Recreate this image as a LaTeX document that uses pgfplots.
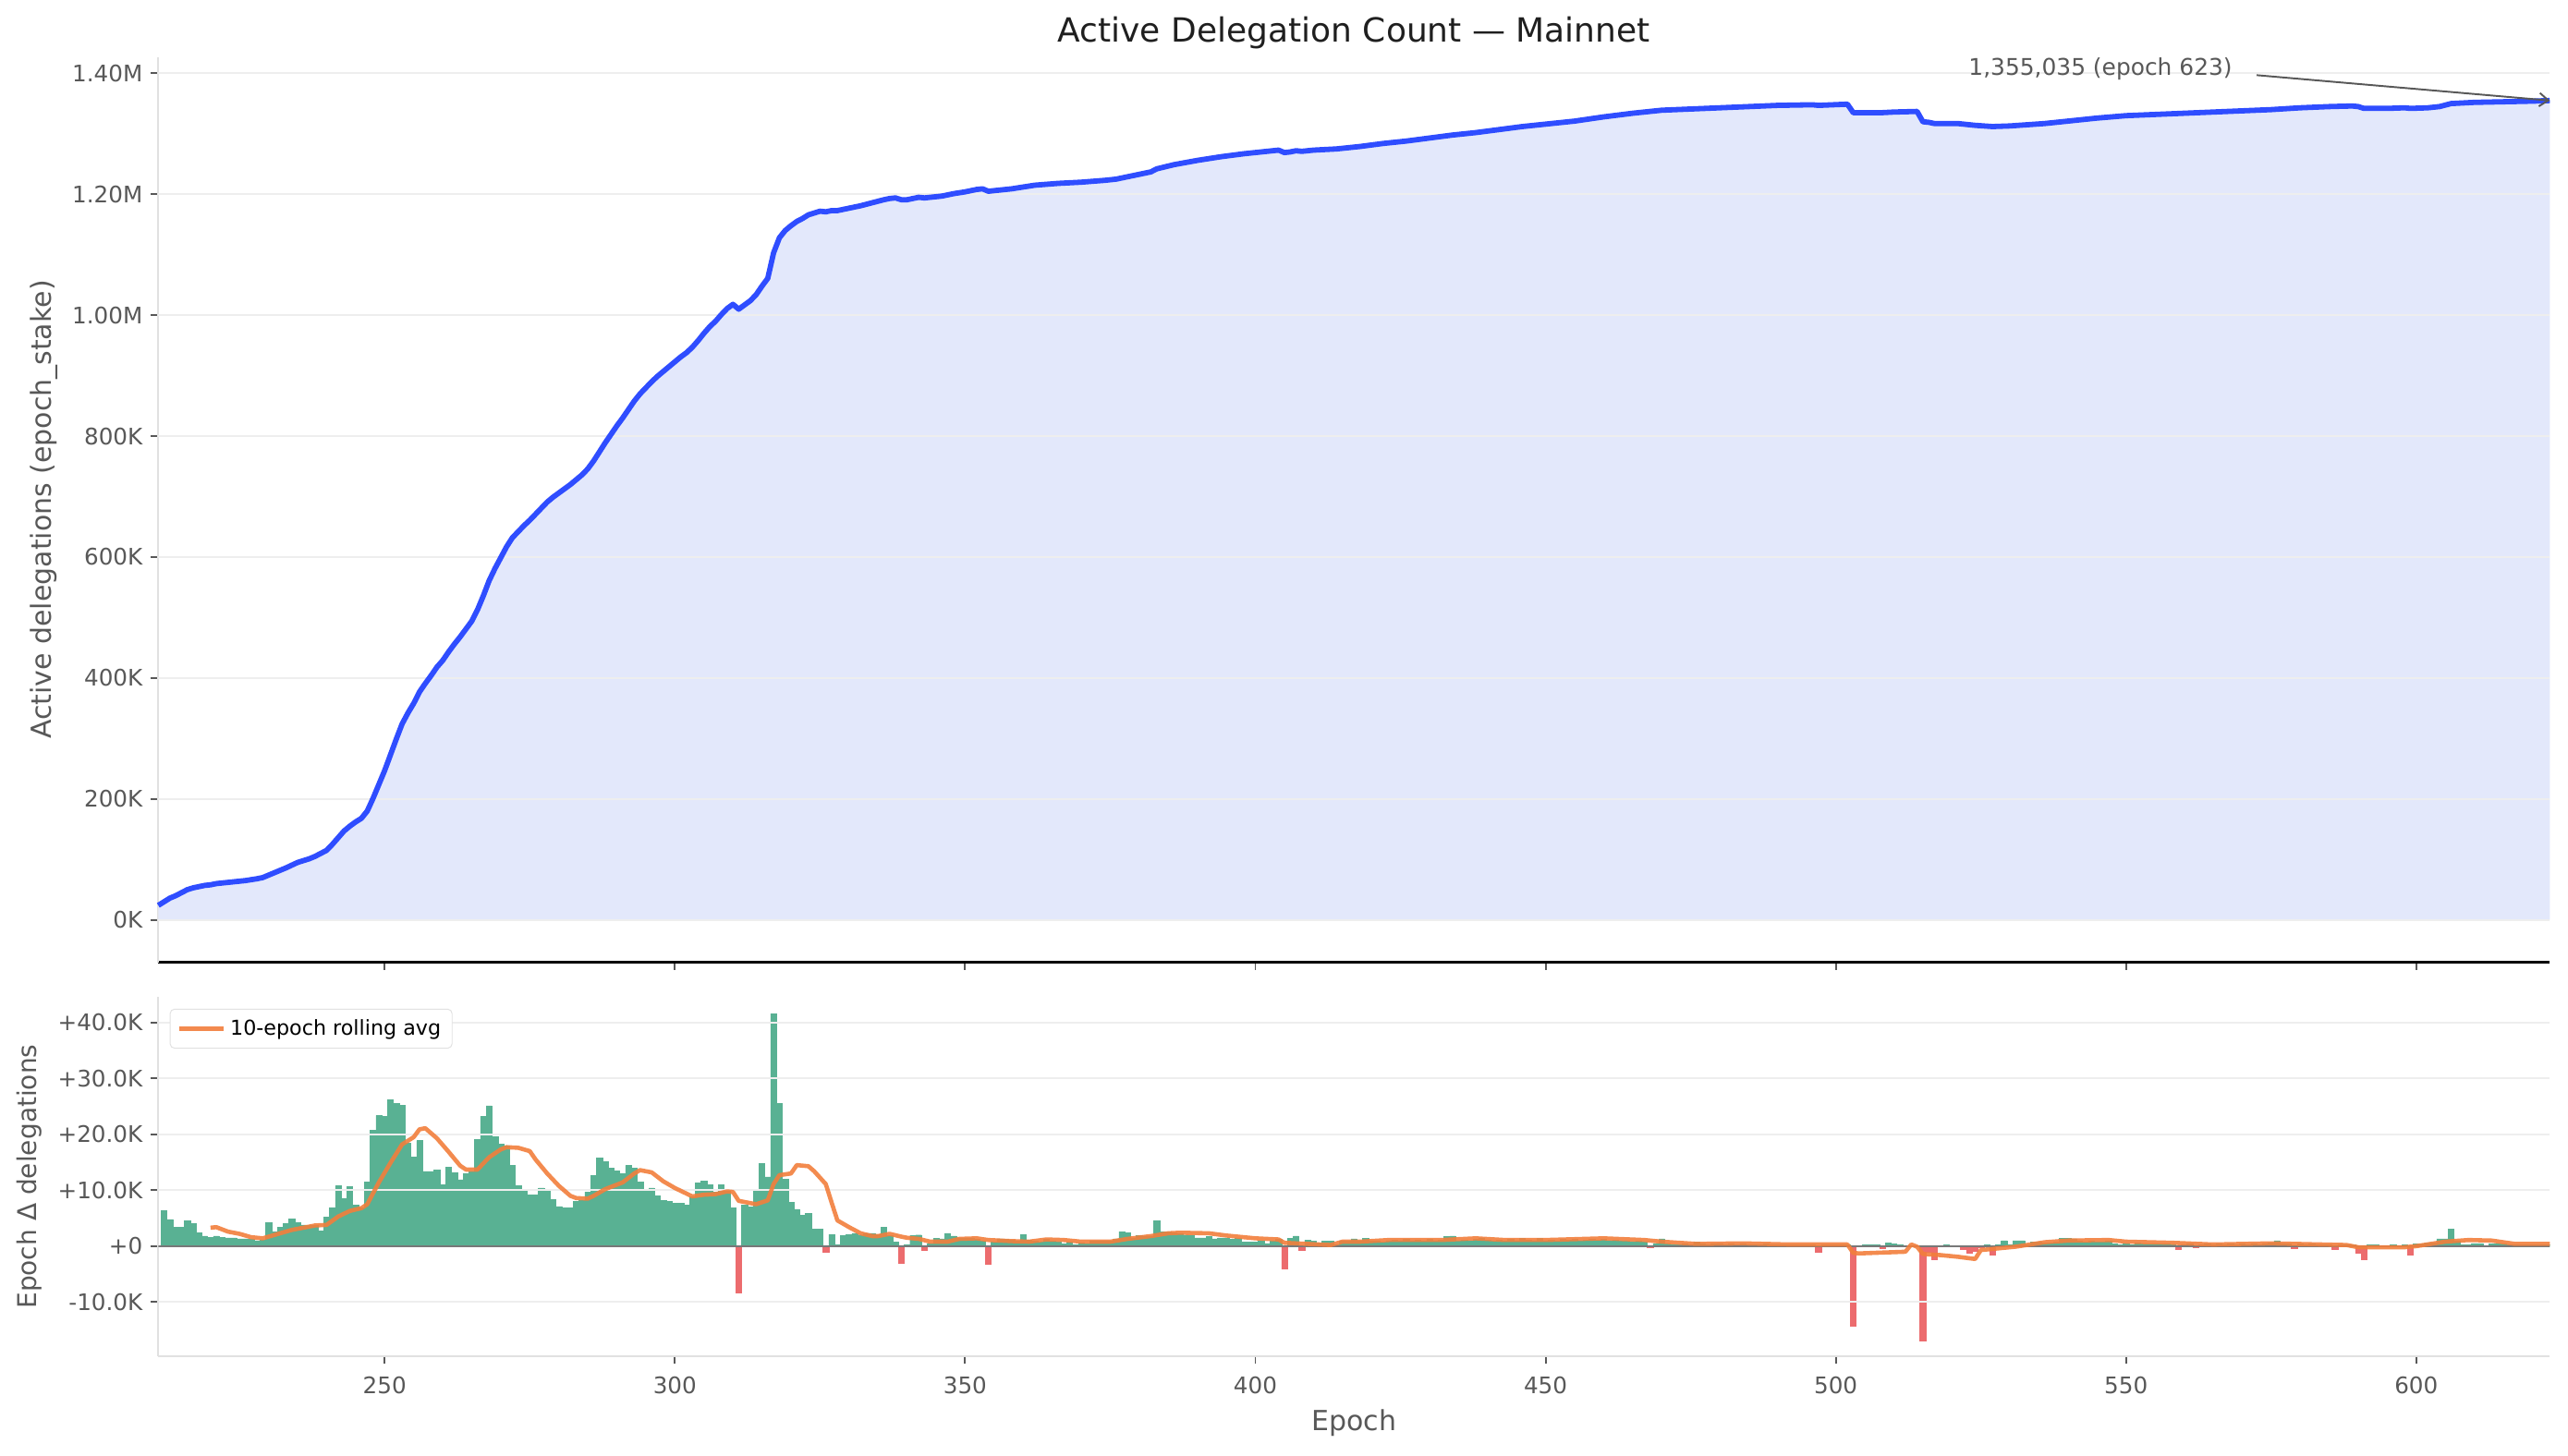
\documentclass[border=0pt]{standalone}
\usepackage{fontspec}
\setmainfont{DejaVu Sans}
\usepackage{pgfplots}
\usepackage{pgfplotstable}
\pgfplotsset{compat=1.18}
\usetikzlibrary{arrows.meta}

\definecolor{lineblue}{RGB}{47,77,255}
\definecolor{fillblue}{RGB}{227,232,251}
\definecolor{bargreen}{RGB}{89,177,147}
\definecolor{barred}{RGB}{236,108,110}
\definecolor{avgorange}{RGB}{242,126,60}
\definecolor{gridgray}{RGB}{238,238,238}
\definecolor{spinegray}{RGB}{225,225,225}
\definecolor{labelgray}{RGB}{88,88,88}
\definecolor{zerogray}{RGB}{120,120,120}

\pgfplotsset{
  panel/.style={
    scale only axis, width=1070.86pt,
    xmin=211, xmax=623,
    axis x line*=bottom, axis y line*=left,
    tick align=outside,
    major tick length=3.5pt,
    tick style={labelgray, line width=0.8pt},
    tick label style={font=\fontsize{10.2}{12}\selectfont, text=labelgray},
    xticklabel style={yshift=-2pt},
    xtick={250,300,...,600},
    y axis line style={spinegray, line width=0.8pt, -},
  },
  gridline/.style={forget plot, gridgray, line width=0.8pt},
}

% active delegations (thousands)
\pgfplotstableread{
epoch count
211 24
212 30
213 36
214 40
215 45
216 50
217 53
218 55
219 57
220 58
221 60
222 61
224 63
226 65
228 68
229 70
231 78
233 86
235 95
237 101
238 105
240 115
241 125
242 136
243 147
244 155
245 162
246 168
247 180
248 201
249 224
250 247
251 273
252 299
253 324
254 342
255 358
256 377
257 391
258 404
259 418
260 429
261 443
262 456
263 468
264 481
265 494
266 513
267 536
268 561
269 581
270 599
271 617
272 632
273 642
274 652
275 661
276 671
277 681
278 691
279 699
280 706
281 713
282 720
283 728
284 736
285 746
286 759
287 774
288 789
289 803
290 817
291 830
292 844
293 858
294 870
295 880
296 890
297 899
298 907
299 915
300 923
301 931
302 938
303 947
304 958
305 970
306 981
307 990
308 1001
309 1011
310 1018
311 1010
312 1017
313 1024
314 1034
315 1048
316 1061
317 1103
318 1128
319 1140
320 1148
321 1155
322 1160
323 1166
324 1169
325 1172
326 1171
327 1173
328 1173
330 1177
332 1181
334 1186
336 1191
337 1193
338 1194
339 1191
340 1191
342 1195
343 1194
344 1195
346 1197
348 1201
350 1204
352 1208
353 1209
354 1205
356 1207
358 1209
360 1212
362 1215
366 1218
370 1220
374 1223
376 1225
378 1229
380 1233
382 1237
383 1242
386 1249
390 1256
394 1262
398 1267
402 1271
404 1273
405 1269
406 1270
407 1272
408 1271
410 1273
414 1275
418 1279
422 1284
426 1288
430 1293
434 1298
438 1302
442 1307
446 1312
450 1316
455 1321
460 1328
465 1334
470 1339
475 1341
480 1343
485 1345
490 1347
496 1348
497 1347
502 1349
503 1335
507 1335
508 1335
510 1336
514 1337
515 1320
516 1319
517 1317
521 1317
522 1316
524 1314
527 1312
530 1313
533 1315
536 1317
540 1321
545 1326
550 1330
555 1332
560 1334
565 1336
570 1338
575 1340
580 1343
585 1345
589 1346
590 1345
591 1342
595 1342
598 1343
599 1342
602 1343
604 1345
606 1350
610 1352
615 1353
620 1354
623 1355.035
}\activetable

\begin{document}
\begin{tikzpicture}
\path[use as bounding box] (0pt,0pt) rectangle (1149.93pt,-651.72pt);

% ---------------- top panel
\begin{axis}[panel,
  at={(70.88pt,-25.53pt)}, anchor=north west,
  height=405.43pt,
  ymin=-70, ymax=1427,
  ytick={0,200,...,1400},
  yticklabels={0K,200K,400K,600K,800K,1.00M,1.20M,1.40M},
  xticklabel=\empty,
  x axis line style={black, line width=0.9pt, -},
  clip=false,
]
\addplot[forget plot, draw=none, fill=fillblue] table[x=epoch, y=count] {\activetable} \closedcycle;
\pgfplotsinvokeforeach{0,200,400,600,800,1000,1200,1400}{
  \addplot[gridline] coordinates {(211,#1) (623,#1)};
}
\addplot[lineblue, line width=2.4pt, line join=round] table[x=epoch, y=count] {\activetable};
\node[font=\fontsize{10.3}{12}\selectfont, text=labelgray] at (axis cs:545.6,1408) {1,355,035 (epoch 623)};
\draw[-{Straight Barb[length=4pt,width=6pt]}, labelgray, line width=0.8pt] (axis cs:572.5,1397) -- (axis cs:623,1355.035);
\end{axis}

% ---------------- bottom panel
\begin{axis}[panel,
  at={(70.88pt,-446.48pt)}, anchor=north west,
  height=160.97pt,
  ymin=-19.7, ymax=44.6,
  ytick={-10,0,10,20,30,40},
  yticklabels={-10.0K,+0,+10.0K,+20.0K,+30.0K,+40.0K},
  xticklabels={250,300,350,400,450,500,550,600},
  x axis line style={spinegray, line width=1pt, -},
  legend style={at={(0,1)}, anchor=north west, xshift=5.1pt, yshift=-5.3pt,
    draw=spinegray, rounded corners=2pt, fill=white,
    font=\fontsize{9.2}{11}\selectfont, inner xsep=3pt, inner ysep=2.5pt},
  legend image code/.code={\draw[#1] (0pt,0pt) -- (20pt,0pt);},
  legend cell align=left,
]
% epoch-over-epoch change (thousands), gains
\addplot[forget plot, ybar, bar width=1, bar shift=0pt, fill=bargreen, draw=bargreen, line width=0.2pt] coordinates {
(212,6.4)(213,4.8)(214,3.4)(215,3.4)(216,4.6)(217,4.1)(218,2.4)(219,1.8)(220,1.6)(221,1.8)
(222,1.6)(223,1.5)(224,1.5)(225,1.3)(226,1.3)(227,1.2)(228,1.0)(229,1.1)(230,4.2)(231,2.6)
(232,3.4)(233,4.1)(234,4.9)(235,4.2)(236,3.8)(237,3.7)(238,3.7)(239,2.7)(240,5.2)(241,6.9)
(242,10.8)(243,8.5)(244,10.7)(245,7.4)(246,6.8)(247,11.5)(248,20.7)(249,23.4)(250,23.2)(251,26.2)
(252,25.5)(253,25.2)(254,18.4)(255,15.9)(256,18.9)(257,13.4)(258,13.4)(259,13.6)(260,11.0)(261,14.1)
(262,13.1)(263,11.9)(264,13.0)(265,13.4)(266,19.1)(267,23.2)(268,25.1)(269,19.6)(270,18.2)(271,18.0)
(272,14.5)(273,10.8)(274,9.9)(275,9.2)(276,9.2)(277,10.4)(278,10.1)(279,8.4)(280,7.1)(281,6.9)
(282,6.9)(283,8.0)(284,8.2)(285,9.7)(286,12.6)(287,15.8)(288,15.1)(289,14.0)(290,13.5)(291,13.0)
(292,14.4)(293,14.0)(294,11.5)(295,9.9)(296,10.4)(297,9.0)(298,8.2)(299,8.0)(300,7.7)(301,7.7)
(302,7.4)(303,8.8)(304,11.3)(305,11.6)(306,11.0)(307,9.7)(308,11.0)(309,9.9)(310,6.9)
(312,7.3)(313,7.0)(314,9.8)(315,14.8)(316,12.4)(317,41.6)(318,25.5)(319,12.0)(320,7.9)(321,6.6)
(322,5.5)(323,5.9)(324,3.0)(325,3.0)(327,2.1)(328,0.2)(329,1.9)(330,2.1)(331,2.3)
(332,2.0)(333,2.3)(334,2.3)(335,2.1)(336,3.4)(337,1.9)(338,0.8)(340,0.3)(341,1.9)
(342,2.0)(344,0.5)(345,1.4)(346,1.3)(347,2.3)(348,1.8)(349,1.5)(350,1.5)(351,1.5)
(352,1.2)(353,0.9)(355,0.7)(356,1.3)(357,1.2)(358,1.1)(359,0.9)(360,2.1)(361,1.1)
(362,0.9)(363,0.8)(364,1.2)(365,0.9)(366,0.7)(367,0.4)(368,0.7)(369,0.2)(370,0.6)(371,0.4)
(372,0.9)(373,0.9)(374,0.9)(375,0.9)(376,1.3)(377,2.6)(378,2.4)(379,1.5)(380,1.9)(381,1.8)
(382,1.8)(383,4.6)(384,2.6)(385,2.6)(386,2.4)(387,2.3)(388,2.0)(389,1.9)(390,1.5)(391,1.5)
(392,1.7)(393,1.3)(394,1.5)(395,1.5)(396,1.2)(397,1.5)(398,0.7)(399,0.8)(400,0.8)(401,0.9)
(402,0.5)(403,0.9)(404,1.2)(406,1.4)(407,1.8)(409,1.1)(410,0.9)(411,0.6)
(412,0.9)(413,0.9)(414,0.2)(415,1.0)(416,0.9)(417,1.3)(418,1.0)(419,1.4)(420,1.0)(421,1.0)
(422,0.7)(423,1.0)(424,1.1)(425,1.0)(426,1.2)(427,1.0)(428,1.1)(429,0.9)(430,1.2)(431,1.0)
(432,1.1)(433,1.7)(434,1.8)(435,1.0)(436,1.1)(437,0.9)(438,1.2)(439,1.5)(440,1.1)(441,1.0)
(442,1.1)(443,0.9)(444,1.2)(445,1.0)(446,1.4)(447,1.1)(448,1.0)(449,1.4)(450,1.0)(451,1.1)
(452,1.0)(453,1.2)(454,1.1)(455,1.2)(456,1.0)(457,1.1)(458,1.2)(459,1.1)(460,1.2)(461,1.0)
(462,1.1)(463,0.9)(464,1.0)(465,0.8)(466,0.9)(467,0.8)(469,0.5)(470,1.3)(471,0.5)
(472,0.3)(473,0.2)(474,0.4)(475,0.3)(476,0.7)(477,0.4)(478,0.3)(479,0.4)(480,0.5)(481,0.3)
(482,0.4)(483,0.3)(484,0.4)(485,0.2)(486,0.3)(487,0.3)(488,0.4)(489,0.3)(490,0.2)(491,0.3)
(492,0.3)(493,0.2)(494,0.3)(495,0.2)(496,0.3)(498,0.3)(499,0.2)(500,0.2)(501,0.2)
(502,0.3)(504,0.1)(505,0.2)(506,0.3)(507,0.3)(509,0.6)(510,0.4)(511,0.2)
(512,0.1)(513,0.1)(514,0.1)(518,0.1)(519,0.2)(520,0.1)(521,0.1)
(526,0.3)(528,0.3)(529,1.0)(530,0.3)(531,1.0)
(532,1.0)(533,0.3)(534,0.8)(535,0.8)(536,0.6)(537,0.6)(538,0.7)(539,1.4)(540,1.4)(541,1.3)
(542,0.9)(543,0.8)(544,0.9)(545,0.8)(546,0.8)(547,0.9)(548,0.4)(549,0.3)(550,0.5)(551,0.3)
(552,0.6)(553,0.5)(554,0.4)(555,0.5)(556,0.4)(557,0.5)(558,0.3)(560,0.3)(561,0.4)
(563,0.3)(564,0.4)(565,0.3)(566,0.4)(567,0.3)(568,0.4)(569,0.3)(570,0.4)(571,0.3)
(572,0.4)(573,0.3)(574,0.5)(575,0.6)(576,1.0)(577,0.5)(578,0.4)(580,0.4)(581,0.3)
(582,0.4)(583,0.3)(584,0.3)(585,0.2)(587,0.2)(588,0.3)(589,0.2)
(592,0.3)(593,0.3)(594,0.1)(595,0.1)(596,0.3)(597,0.1)(598,0.3)(600,0.4)(601,0.4)
(602,0.6)(603,0.6)(604,1.3)(605,1.3)(606,3.1)(607,1.0)(608,0.2)(609,0.3)(610,0.5)(611,0.5)
(613,0.4)(614,0.4)(615,0.4)(616,0.2)(617,0.3)(618,0.2)(619,0.3)(620,0.2)(621,0.3)
(622,0.2)(623,0.3)
};
% losses
\addplot[forget plot, ybar, bar width=1, bar shift=0pt, fill=barred, draw=barred, line width=0.2pt] coordinates {
(311,-8.4)(326,-1.1)(339,-3.1)(343,-0.8)(354,-3.2)(405,-4.1)(408,-0.8)(468,-0.3)(497,-1.1)
(503,-14.3)(508,-0.4)(515,-17.0)(516,-1.0)(517,-2.4)(522,-0.6)(523,-1.2)(524,-0.9)(525,-0.3)
(527,-1.5)(559,-0.5)(562,-0.3)(579,-0.4)(586,-0.5)(590,-1.3)(591,-2.4)(599,-1.5)
};
\pgfplotsinvokeforeach{-10,10,20,30,40}{
  \addplot[gridline] coordinates {(211,#1) (623,#1)};
}
\addplot[forget plot, zerogray, line width=0.8pt] coordinates {(211,0) (623,0)};
% 10-epoch rolling average
\addplot[avgorange, line width=1.9pt, opacity=0.9, line join=round] coordinates {
(220,3.3)(221,3.4)(223,2.6)(225,2.2)(227,1.6)(229,1.4)(231,2.0)(234,2.9)(238,3.7)(240,3.8)
(242,5.3)(244,6.3)(246,6.8)(247,7.5)(249,11.4)(251,14.9)(253,18.2)(255,19.5)(256,20.9)(257,21.1)
(259,19.3)(261,16.9)(263,14.4)(264,13.7)(266,13.7)(268,15.9)(270,17.3)(271,17.7)(273,17.6)(275,17.0)
(276,15.5)(278,13.0)(280,10.8)(282,9.0)(283,8.6)(285,8.5)(286,9.0)(288,10.2)(291,11.4)(293,13.0)
(294,13.6)(296,13.2)(298,11.6)(300,10.4)(303,8.9)(305,9.2)(307,9.3)(309,9.8)(310,9.7)(311,8.1)
(312,7.9)(314,7.5)(316,8.2)(317,11.1)(318,12.7)(320,13.0)(321,14.5)(323,14.3)(324,13.4)(326,11.1)
(327,7.8)(328,4.6)(330,3.4)(332,2.3)(334,1.8)(335,1.8)(337,2.2)(339,1.7)(340,1.5)(342,1.3)
(344,0.8)(347,0.8)(349,1.3)(352,1.4)(354,1.1)(358,0.9)(361,0.8)(364,1.2)(367,1.1)(370,0.8)
(375,0.8)(378,1.3)(382,1.8)(385,2.3)(387,2.4)(392,2.3)(395,1.9)(397,1.7)(400,1.4)(404,1.2)
(405,0.6)(409,0.4)(413,0.2)(415,0.8)(418,0.8)(423,1.1)(432,1.1)(438,1.4)(443,1.1)(450,1.1)
(460,1.4)(467,1.1)(470,0.8)(476,0.4)(484,0.5)(492,0.3)(502,0.3)(503,-1.2)(504,-1.3)(512,-1.0)
(513,0.3)(514,-0.1)(515,-1.4)(518,-1.6)(521,-1.9)(524,-2.3)(525,-0.7)(531,-0.1)(536,0.7)(540,1.0)
(547,1.1)(550,0.8)(558,0.6)(565,0.3)(575,0.5)(588,0.2)(590,-0.2)(598,-0.2)(600,0.0)(605,0.8)
(609,1.1)(613,1.0)(617,0.4)(623,0.4)
};
\addlegendentry{10-epoch rolling avg}
\end{axis}

% titles and axis labels
\node[font=\fontsize{14.9}{18}\selectfont, text=black!88] at (606.3pt,-14.66pt) {Active Delegation Count — Mainnet};
\node[rotate=90, font=\fontsize{12.4}{15}\selectfont, text=labelgray] at (19.8pt,-228.2pt) {Active delegations (epoch\_stake)};
\node[rotate=90, font=\fontsize{11.6}{14}\selectfont, text=labelgray] at (13.2pt,-527.0pt) {Epoch Δ delegations};
\node[font=\fontsize{12.4}{15}\selectfont, text=labelgray] at (606.3pt,-637.2pt) {Epoch};
\end{tikzpicture}
\end{document}
